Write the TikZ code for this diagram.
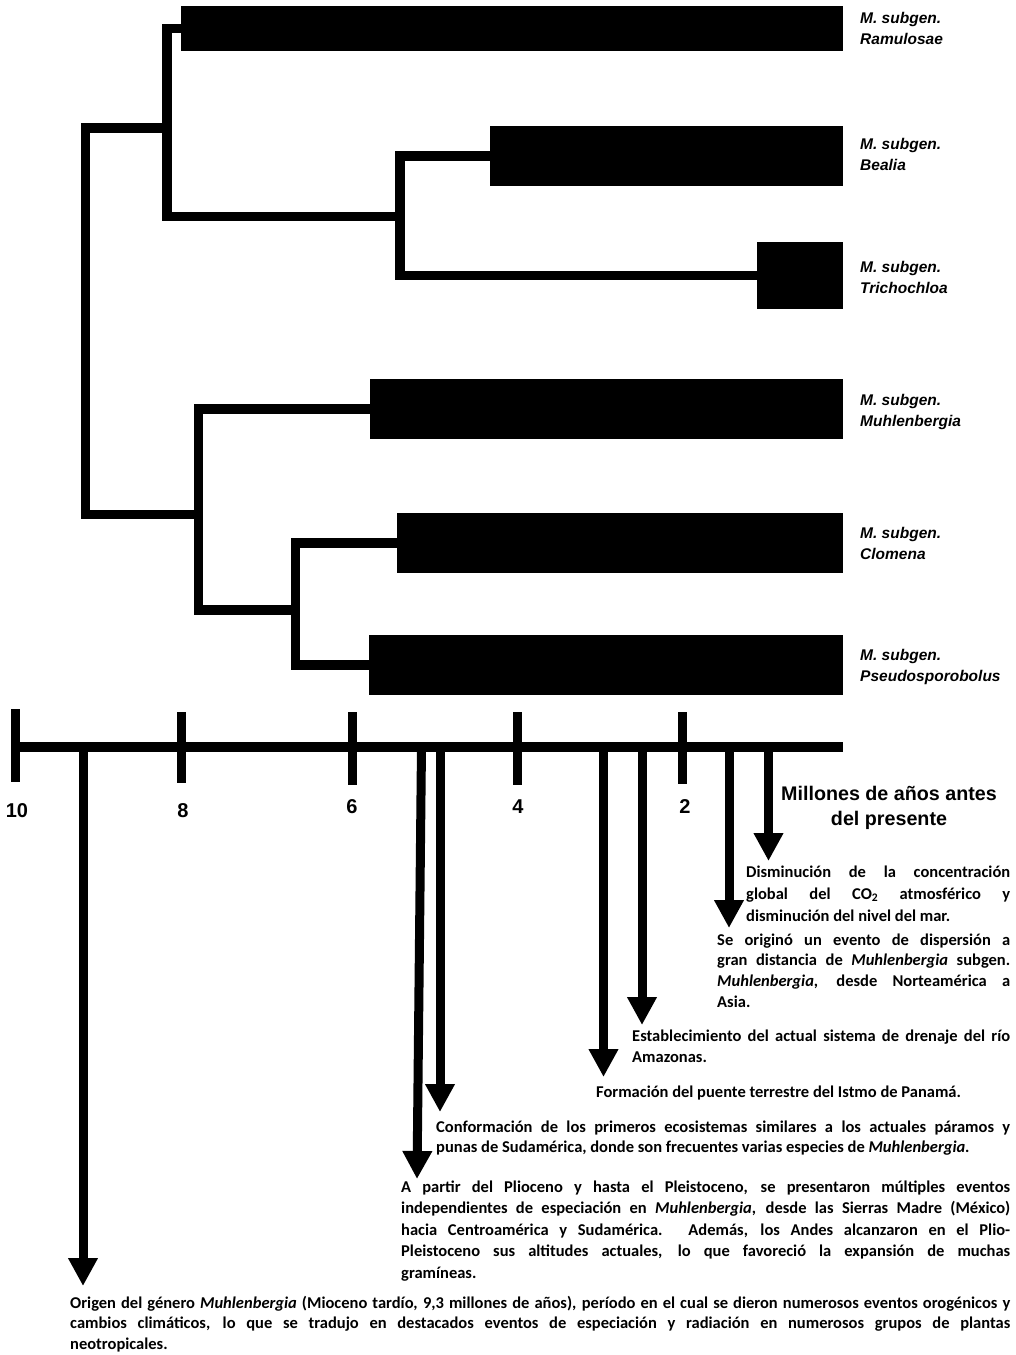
\documentclass[tikz,border=0pt]{standalone}
\usepackage{fontspec}
\setmainfont{Carlito}
\newfontfamily\labfont{Liberation Sans}
\usetikzlibrary{arrows.meta}
\newcommand\tblock[3]{\parbox[t]{#1}{\fontsize{16.5}{#2}\selectfont\bfseries #3}}
\newcommand\jl[1]{\hbox to \linewidth{#1}}
\newcommand\lastl[1]{\hbox{#1}}
\newcommand\sglab[1]{\parbox[t]{150pt}{\raggedright\labfont\bfseries\itshape\fontsize{15.5}{21}\selectfont M. subgen.\\#1}}
\begin{document}
\begin{tikzpicture}[x=1pt,y=-1pt,
  bar/.style={fill=black,draw=none,inner sep=0pt,outer sep=0pt,anchor=north west},
  branch/.style={line width=9.5pt,line join=miter,line cap=butt},
  lab/.style={inner sep=0pt,anchor=base west},
  num/.style={inner sep=0pt,anchor=base,font=\labfont\bfseries\fontsize{20}{24}\selectfont},
  txt/.style={inner sep=0pt,anchor=base west},
  tick/.style={line width=9pt},
  evt/.style={line width=9pt,-{Triangle[width=28pt,length=28pt]}}]
\useasboundingbox (0,0) rectangle (1016,1355);

% bars
\node[bar,minimum width=662pt,minimum height=45pt] (bRam) at (181,6) {};
\node[bar,minimum width=353pt,minimum height=60pt] (bBea) at (490,126) {};
\node[bar,minimum width=86pt,minimum height=67pt] (bTri) at (757,242) {};
\node[bar,minimum width=473pt,minimum height=60pt] (bMuh) at (370,379) {};
\node[bar,minimum width=446pt,minimum height=60pt] (bClo) at (397,513) {};
\node[bar,minimum width=474pt,minimum height=60pt] (bPse) at (369,635) {};

% internal nodes
\coordinate (nA) at (167,128);
\coordinate (nB) at (400,216.5);
\coordinate (nR) at (85.5,300);
\coordinate (nC) at (198.5,514.5);
\coordinate (nD) at (295.5,610);

\begin{scope}[on background layer/.style={}]
\draw[branch] (bRam.west) -| (nA) |- (nB);
\draw[branch] (bBea.west) -| (nB) |- (bTri.west);
\draw[branch] (nA) -| (nR) |- (nC);
\draw[branch] (bMuh.west) -| (nC) |- (nD);
\draw[branch] (bClo.west) -| (nD) |- (bPse.west);
\end{scope}
% redraw bars on top
\fill (bRam.north west) rectangle (bRam.south east);
\fill (bBea.north west) rectangle (bBea.south east);
\fill (bTri.north west) rectangle (bTri.south east);
\fill (bMuh.north west) rectangle (bMuh.south east);
\fill (bClo.north west) rectangle (bClo.south east);
\fill (bPse.north west) rectangle (bPse.south east);

% subgenus labels
\node[lab] (lRam) at (860,23) {\sglab{Ramulosae}};
\node[lab] (lBea) at (860,149) {\sglab{Bealia}};
\node[lab] (lTri) at (860,272) {\sglab{Trichochloa}};
\node[lab] (lMuh) at (860,405) {\sglab{Muhlenbergia}};
\node[lab] (lClo) at (860,538) {\sglab{Clomena}};
\node[lab] (lPse) at (860,660) {\sglab{Pseudosporobolus}};

% event arrows
\coordinate (sOri) at (83,747);   \coordinate (eOri) at (83,1286);
\coordinate (sApa) at (421.5,747); \coordinate (eApa) at (417,1179);
\coordinate (sCon) at (440,747);  \coordinate (eCon) at (440,1112);
\coordinate (sFor) at (603.5,747); \coordinate (eFor) at (603.5,1077);
\coordinate (sEst) at (642,747);  \coordinate (eEst) at (642,1025);
\coordinate (sSe) at (729,747);   \coordinate (eSe) at (729,928);
\coordinate (sDis) at (768.5,747); \coordinate (eDis) at (768.5,861);
\draw[evt] (sOri) -- (eOri);
\draw[evt] (sApa) -- (eApa);
\draw[evt] (sCon) -- (eCon);
\draw[evt] (sFor) -- (eFor);
\draw[evt] (sEst) -- (eEst);
\draw[evt] (sSe) -- (eSe);
\draw[evt] (sDis) -- (eDis);

% axis
\coordinate (ax0) at (12,747);
\coordinate (ax1) at (843,747);
\draw[line width=10pt] (ax0) -- (ax1);
\draw[tick] (15.5,709) -- (15.5,782);
\draw[tick] (181.5,712) -- (181.5,783);
\draw[tick] (352,712) -- (352,785);
\draw[tick] (517.5,712) -- (517.5,785);
\draw[tick] (682.5,712) -- (682.5,784);
\node[num] (n10) at (17,817) {10};
\node[num] (n8) at (183,817) {8};
\node[num] (n6) at (352,813) {6};
\node[num] (n4) at (518,813) {4};
\node[num] (n2) at (685,813) {2};
\node[inner sep=0pt,anchor=base] (unit) at (889,800) {\labfont\bfseries\fontsize{19.7}{25}\selectfont\begin{tabular}[t]{@{}c@{}}Millones de años antes\\del presente\end{tabular}};

% event texts
\node[txt] (tDis) at (746,877) {\tblock{264pt}{22.2pt}{%
\jl{Disminución de la concentración}%
\jl{global del CO\textsubscript{2} atmosférico y}%
\lastl{disminución del nivel del mar.}}};
\node[txt] (tSe) at (717,945) {\tblock{293pt}{20.8pt}{%
\jl{Se originó un evento de dispersión a}%
\jl{gran distancia de \textit{Muhlenbergia} subgen.}%
\jl{\textit{Muhlenbergia}, desde Norteamérica a}%
\lastl{Asia.}}};
\node[txt] (tEst) at (632,1041.5) {\tblock{378pt}{21.3pt}{%
\jl{Establecimiento del actual sistema de drenaje del río}%
\lastl{Amazonas.}}};
\node[txt] (tFor) at (596,1097) {\tblock{414pt}{21pt}{%
\lastl{Formación del puente terrestre del Istmo de Panamá.}}};
\node[txt] (tCon) at (436,1132) {\tblock{574pt}{20pt}{%
\jl{Conformación de los primeros ecosistemas similares a los actuales páramos y}%
\lastl{punas de Sudamérica, donde son frecuentes varias especies de \textit{Muhlenbergia.}}}};
\node[txt] (tApa) at (401,1192) {\tblock{609pt}{21.5pt}{%
\jl{A partir del Plioceno y hasta el Pleistoceno, se presentaron múltiples eventos}%
\jl{independientes de especiación en \textit{Muhlenbergia}, desde las Sierras Madre (México)}%
\jl{hacia Centroamérica y Sudamérica. Además, los Andes alcanzaron en el Plio-}%
\jl{Pleistoceno sus altitudes actuales, lo que favoreció la expansión de muchas}%
\lastl{gramíneas.}}};
\node[txt] (tOri) at (70,1308) {\tblock{940pt}{20.5pt}{%
\jl{Origen del género \textit{Muhlenbergia} (Mioceno tardío, 9,3 millones de años), período en el cual se dieron numerosos eventos orogénicos y}%
\jl{cambios climáticos, lo que se tradujo en destacados eventos de especiación y radiación en numerosos grupos de plantas}%
\lastl{neotropicales.}}};
\end{tikzpicture}
\end{document}
